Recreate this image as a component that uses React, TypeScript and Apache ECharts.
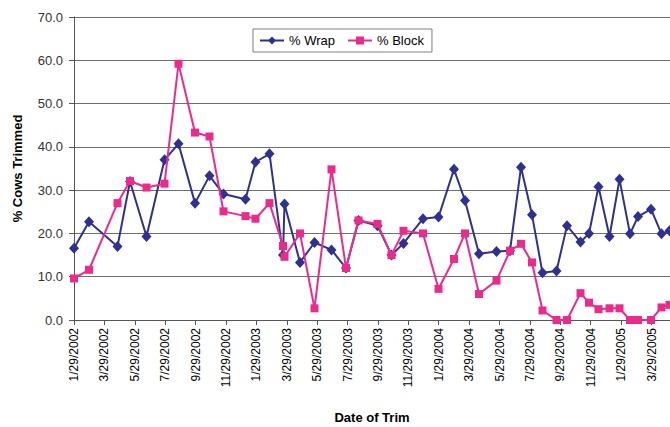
import React, { useEffect, useRef } from "react";
import * as echarts from "echarts";

const startDate = "2002-01-29";
const axisEndDate = "2005-05-05";

const xTickLabels = [
  "1/29/2002", "3/29/2002", "5/29/2002", "7/29/2002", "9/29/2002", "11/29/2002",
  "1/29/2003", "3/29/2003", "5/29/2003", "7/29/2003", "9/29/2003", "11/29/2003",
  "1/29/2004", "3/29/2004", "5/29/2004", "7/29/2004", "9/29/2004", "11/29/2004",
  "1/29/2005", "3/29/2005",
];
const lastTickDate = "2005-03-29";

const trimDates = [
  "2002-01-29", "2002-02-28", "2002-04-26", "2002-05-21", "2002-06-23", "2002-07-29",
  "2002-08-26", "2002-09-28", "2002-10-27", "2002-11-24",
  "2003-01-07", "2003-01-27", "2003-02-24", "2003-03-23", "2003-03-26", "2003-04-26",
  "2003-05-25", "2003-06-28", "2003-07-27", "2003-08-21", "2003-09-28", "2003-10-26",
  "2003-11-19", "2003-12-28",
  "2004-01-28", "2004-02-28", "2004-03-21", "2004-04-18", "2004-05-23", "2004-06-19",
  "2004-07-11", "2004-08-02", "2004-08-23", "2004-09-20", "2004-10-11", "2004-11-07",
  "2004-11-24", "2004-12-13",
  "2005-01-04", "2005-01-24", "2005-02-14", "2005-03-02", "2005-03-28", "2005-04-18",
  "2005-05-04",
];

const wrapValues = [
  16.6, 22.7, 17.0, 32.0, 19.3, 37.0, 40.7, 27.0, 33.3, 29.1,
  27.9, 36.5, 38.4, 15.0, 26.8, 13.3, 17.9, 16.2, 12.0, 23.0, 21.8, 15.0, 17.7, 23.4,
  23.8, 34.8, 27.6, 15.3, 15.8, 16.0, 35.3, 24.3, 10.9, 11.3, 21.8, 18.0, 20.0, 30.8,
  19.3, 32.5, 19.9, 23.9, 25.6, 19.9, 20.6,
];

const blockValues = [
  9.6, 11.6, 27.0, 32.1, 30.6, 31.5, 59.2, 43.3, 42.4, 25.1,
  24.0, 23.4, 27.0, 17.1, 14.6, 20.0, 2.7, 34.8, 12.0, 23.0, 22.2, 15.0, 20.6, 20.0,
  7.2, 14.1, 20.0, 6.0, 9.1, 16.0, 17.6, 13.3, 2.2, 0, 0, 6.2, 4.0, 2.5,
  2.7, 2.7, 0, 0, 0, 2.9, 3.5,
];

const yMin = 0;
const yMax = 70;
const yStep = 10;

const DAY = 86400000;
const dayOffset = (d: string) => (Date.parse(d) - Date.parse(startDate)) / DAY;

const FONT = "'Liberation Sans', Arial, sans-serif";

export default function App() {
  const ref = useRef<HTMLDivElement>(null);

  useEffect(() => {
    if (!ref.current) return;
    const chart = echarts.init(ref.current, null, { renderer: "svg" });
    const tickInterval = dayOffset(lastTickDate) / (xTickLabels.length - 1);
    const wrapData = trimDates.map((d, i) => [dayOffset(d), wrapValues[i]]);
    const blockData = trimDates.map((d, i) => [dayOffset(d), blockValues[i]]);

    chart.setOption({
      animation: false,
      backgroundColor: "#ffffff",
      textStyle: { fontFamily: FONT },
      grid: {
        left: 74,
        right: 0,
        top: 17,
        bottom: 107,
        containLabel: false,
        outerBoundsMode: "none",
      },
      legend: {
        left: 253,
        top: 29,
        padding: [5, 8, 5, 6],
        itemGap: 12,
        itemWidth: 24,
        itemHeight: 10,
        borderColor: "#7f7f7f",
        borderWidth: 1,
        backgroundColor: "#ffffff",
        textStyle: { fontFamily: FONT, fontSize: 13, color: "#000" },
        data: ["% Wrap", "% Block"],
      },
      xAxis: {
        type: "value",
        min: 0,
        max: dayOffset(axisEndDate),
        interval: tickInterval,
        name: "Date of Trim",
        nameLocation: "middle",
        nameGap: 91,
        nameTextStyle: { fontFamily: FONT, fontSize: 13, fontWeight: "bold", color: "#000" },
        axisLine: { show: true, lineStyle: { color: "#555", width: 1 } },
        axisTick: { show: true, inside: false, length: 5, lineStyle: { color: "#555" } },
        splitLine: { show: false },
        axisLabel: {
          rotate: 90,
          margin: 8,
          fontSize: 12,
          color: "#000",
          fontFamily: FONT,
          showMaxLabel: false,
          formatter: (v: number) => {
            const i = Math.round(v / tickInterval);
            if (Math.abs(v - i * tickInterval) > 0.5) return "";
            return xTickLabels[i] ?? "";
          },
        },
      },
      yAxis: {
        type: "value",
        min: yMin,
        max: yMax,
        interval: yStep,
        name: "% Cows Trimmed",
        nameLocation: "middle",
        nameGap: 50,
        nameRotate: 90,
        nameTextStyle: { fontFamily: FONT, fontSize: 13, fontWeight: "bold", color: "#000" },
        axisLine: { show: true, lineStyle: { color: "#555", width: 1 } },
        axisTick: { show: true, inside: false, length: 5, lineStyle: { color: "#555" } },
        splitLine: { show: true, lineStyle: { color: "#6e6e6e", width: 1 } },
        axisLabel: {
          margin: 11,
          fontSize: 13,
          color: "#333",
          fontFamily: FONT,
          formatter: (v: number) => v.toFixed(1),
        },
      },
      series: [
        {
          name: "% Wrap",
          type: "line",
          data: wrapData,
          symbol: "diamond",
          symbolSize: [10, 11],
          lineStyle: { color: "#2E3192", width: 2 },
          itemStyle: { color: "#2E3192" },
          z: 2,
        },
        {
          name: "% Block",
          type: "line",
          data: blockData,
          symbol: "rect",
          symbolSize: 8,
          lineStyle: { color: "#EC2A8C", width: 2 },
          itemStyle: { color: "#EC2A8C" },
          z: 3,
        },
      ],
    });
    return () => chart.dispose();
  }, []);

  return (
    <div
      ref={ref}
      style={{ position: "fixed", left: 0, top: 0, width: 670, height: 427, background: "#fff" }}
    />
  );
}
